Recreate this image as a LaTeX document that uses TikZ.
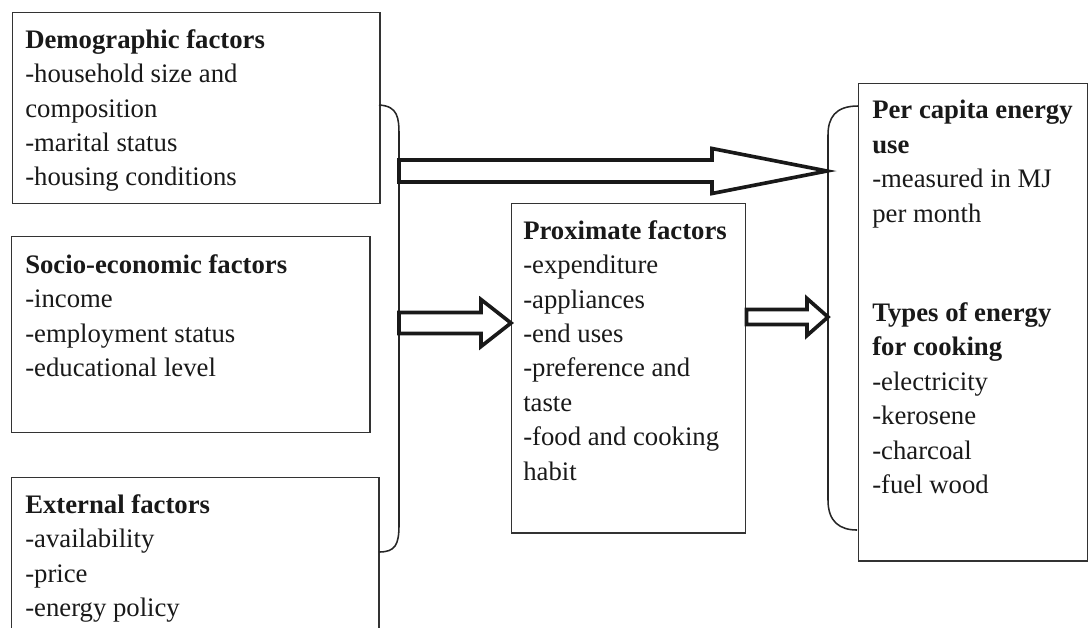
\documentclass[tikz,border=0pt]{standalone}
\usepackage{fontspec}
\setmainfont{Liberation Serif}
\usetikzlibrary{calc}

% hollow block arrow: from, tip, shaft half, head half, head length
\newcommand{\fatarrow}[5]{%
  \draw[fat] ($(#1)+(0,-#3)$) -- ($(#2)+(-#5,-#3)$) -- ($(#2)+(-#5,-#4)$)
    -- (#2) -- ($(#2)+(-#5,#4)$) -- ($(#2)+(-#5,#3)$) -- ($(#1)+(0,#3)$) -- cycle;}

\begin{document}
\begin{tikzpicture}[x=0.025cm, y=-0.025cm,
  box/.style={draw=black!80, line width=1pt, anchor=north west, inner sep=0pt},
  txt/.style={anchor=north west, align=left, inner sep=0pt, text=black!90,
    font=\fontsize{19}{24.5}\selectfont},
  brace/.style={draw=black!85, line width=1.1pt},
  fat/.style={draw=black!90, line width=2.6pt, fill=white}]
\useasboundingbox (0,0) rectangle (1089,627);
\clip (0,0) rectangle (1089,627);

% left column
\node[box, minimum width=9.175cm, minimum height=4.775cm] (demo) at (12,12) {};
\node[box, minimum width=8.95cm, minimum height=4.9cm] (socio) at (11,236) {};
\node[box, minimum width=9.175cm, minimum height=4.6cm] (ext) at (11,477) {};
\node[txt] (demotxt) at ([shift={(13,17)}]demo.north west)
  {\textbf{Demographic factors}\\-household size and\\composition\\-marital status\\-housing conditions};
\node[txt] (sociotxt) at ([shift={(14,18)}]socio.north west)
  {\textbf{Socio-economic factors}\\-income\\-employment status\\-educational level};
\node[txt] (exttxt) at ([shift={(14,17)}]ext.north west)
  {\textbf{External factors}\\-availability\\-price\\-energy policy};

% middle
\node[box, minimum width=5.85cm, minimum height=8.225cm] (prox) at (511,203) {};
\node[txt] (proxtxt) at ([shift={(12,17)}]prox.north west)
  {\textbf{Proximate factors}\\-expenditure\\-appliances\\-end uses\\-preference and\\taste\\-food and cooking\\habit};

% right
\node[box, minimum width=5.725cm, minimum height=11.925cm] (use) at (858,83) {};
\node[txt] (usetxt) at ([shift={(14,17)}]use.north west)
  {\textbf{Per capita energy}\\\textbf{use}\\-measured in MJ\\per month\\[46pt]\textbf{Types of energy}\\\textbf{for cooking}\\-electricity\\-kerosene\\-charcoal\\-fuel wood};

% brackets
\coordinate (lb1) at (379,105);
\coordinate (lb2) at (379,552);
\coordinate (rb1) at (858,106);
\coordinate (rb2) at (857,530);
\draw[brace] (lb1) .. controls (398,106) and (399,118) .. (399,135) -- (399,525)
  .. controls (399,545) and (395,552) .. (lb2);
\draw[brace] (rb1) .. controls (835,106) and (828,118) .. (828,135) -- (828,500)
  .. controls (828,522) and (840,530) .. (rb2);

% arrows
\coordinate (fork1) at (399,171);
\coordinate (fork2) at (399,323);
\coordinate (join1) at (827,171);
\coordinate (join2) at (828,317);
\fatarrow{fork1}{join1}{11}{22.5}{115}
\fatarrow{fork2}{prox.west |- fork2}{10.5}{23.5}{30}
\fatarrow{prox.east |- join2}{join2}{7.5}{18.5}{21}
\end{tikzpicture}
\end{document}
